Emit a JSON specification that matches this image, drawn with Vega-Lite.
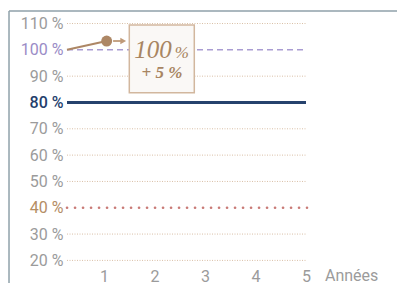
{
  "$schema": "https://vega.github.io/schema/vega-lite/v6.json",
  "width": 330,
  "height": 283,
  "autosize": {"type": "none"},
  "padding": {"left": 67, "top": 0, "right": 0, "bottom": 0},
  "background": "white",
  "config": {"view": {"stroke": null}, "font": "Roboto"},
  "encoding": {
    "x": {
      "field": "x", "type": "quantitative",
      "scale": {"domain": [0.2673, 6.802], "nice": false, "zero": false},
      "axis": {"values": [1, 2, 3, 4, 5], "grid": false, "domain": false, "ticks": false, "tickSize": 0,
        "labelFontSize": 16, "labelColor": "#9b9b9b", "labelFont": "Roboto", "offset": -2, "labelPadding": 0,
        "labelBaseline": "alphabetic", "title": null}
    },
    "y": {
      "field": "y", "type": "quantitative",
      "scale": {"domain": [11.41, 118.94], "nice": false, "zero": false},
      "axis": {"values": [20, 30, 40, 50, 60, 70, 80, 90, 100, 110], "grid": false, "domain": false, "ticks": false,
        "tickSize": 0, "labelPadding": 4, "labelFontSize": 16, "labelFont": "Roboto", "title": null,
        "labelExpr": "datum.value + ' %'",
        "labelColor": {"condition": [
          {"test": "datum.value == 100", "value": "#9a8cc6"},
          {"test": "datum.value == 80", "value": "#24406c"},
          {"test": "datum.value == 40", "value": "#b48d64"}
        ], "value": "#9b9b9b"},
        "labelFontWeight": {"condition": {"test": "datum.value == 80", "value": 500}, "value": "normal"}}
    }
  },
  "layer": [
    {
      "data": {"values": [{"x": -0.881, "x2": 6.802, "y": 114.76}]},
      "mark": {"type": "rule", "color": "#8fa1aa", "strokeWidth": 1.5},
      "encoding": {"x2": {"field": "x2"}}
    },
    {
      "data": {"values": [{"x": -0.881, "y": 114.76, "y2": 11.41}]},
      "mark": {"type": "rule", "color": "#8fa1aa", "strokeWidth": 1.5},
      "encoding": {"y2": {"field": "y2"}}
    },
    {
      "data": {"values": [
        {"y": 20, "x": 0.2673, "x2": 5.02}, {"y": 30, "x": 0.2673, "x2": 5.02}, {"y": 50, "x": 0.2673, "x2": 5.02},
        {"y": 60, "x": 0.2673, "x2": 5.02}, {"y": 70, "x": 0.2673, "x2": 5.02}, {"y": 90, "x": 0.2673, "x2": 5.02},
        {"y": 110, "x": 0.2673, "x2": 5.02}]},
      "mark": {"type": "rule", "color": "#d9bfa6", "strokeWidth": 1, "strokeDash": [1, 1.5]},
      "encoding": {"x2": {"field": "x2"}}
    },
    {
      "data": {"values": [{"y": 40, "x": 0.2673, "x2": 5.02}]},
      "mark": {"type": "rule", "color": "#c97b77", "strokeWidth": 2.6, "strokeDash": [0.1, 7.9], "strokeCap": "round"},
      "encoding": {"x2": {"field": "x2"}}
    },
    {
      "data": {"values": [{"y": 100, "x": 0.2673, "x2": 5.02}]},
      "mark": {"type": "rule", "color": "#a99cd2", "strokeWidth": 1.5, "strokeDash": [6, 4]},
      "encoding": {"x2": {"field": "x2"}}
    },
    {
      "data": {"values": [{"y": 80, "x": 0.2673, "x2": 5.0}]},
      "mark": {"type": "rule", "color": "#26426d", "strokeWidth": 3},
      "encoding": {"x2": {"field": "x2"}}
    },
    {
      "data": {"values": [{"x": 0.2673, "y": 100}, {"x": 1.053, "y": 103.36}]},
      "mark": {"type": "line", "color": "#ad8765", "strokeWidth": 2}
    },
    {
      "data": {"values": [{"x": 1.053, "y": 103.36}]},
      "mark": {"type": "point", "filled": true, "color": "#ad8765", "size": 120, "opacity": 1}
    },
    {
      "data": {"values": [{"x": 1.18, "x2": 1.39, "y": 103.36}]},
      "mark": {"type": "rule", "color": "#bf9a78", "strokeWidth": 1.8},
      "encoding": {"x2": {"field": "x2"}}
    },
    {
      "data": {"values": [{"x": 1.38, "y": 103.36}]},
      "mark": {"type": "point", "shape": "triangle-right", "filled": true, "color": "#bf9a78", "size": 45, "opacity": 1}
    },
    {
      "data": {"values": [{"x": 1.501, "x2": 2.788, "y": 109.44, "y2": 83.72}]},
      "mark": {"type": "rect", "fill": "#faf8f6", "stroke": "#d2b79e", "strokeWidth": 1.5},
      "encoding": {"x2": {"field": "x2"}, "y2": {"field": "y2"}}
    },
    {
      "data": {"values": [{"x": 2.34, "y": 97.0, "t": "100"}]},
      "mark": {"type": "text", "font": "Liberation Serif", "fontStyle": "italic", "fontSize": 25, "color": "#a88562", "align": "right", "baseline": "alphabetic"},
      "encoding": {"text": {"field": "t"}}
    },
    {
      "data": {"values": [{"x": 2.40, "y": 97.0, "t": "%"}]},
      "mark": {"type": "text", "font": "Liberation Serif", "fontStyle": "italic", "fontSize": 17, "color": "#a88562", "align": "left", "baseline": "alphabetic"},
      "encoding": {"text": {"field": "t"}}
    },
    {
      "data": {"values": [{"x": 2.148, "y": 89.19, "t": "+ 5 %"}]},
      "mark": {"type": "text", "font": "Liberation Serif", "fontStyle": "italic", "fontWeight": "bold", "fontSize": 17, "color": "#a88562", "align": "center", "baseline": "alphabetic"},
      "encoding": {"text": {"field": "t"}}
    },
    {
      "data": {"values": [{"x": 5.376, "y": 12.17, "t": "Années"}]},
      "mark": {"type": "text", "font": "Roboto", "fontSize": 16, "color": "#9b9b9b", "align": "left", "baseline": "alphabetic"},
      "encoding": {"text": {"field": "t"}}
    }
  ]
}
